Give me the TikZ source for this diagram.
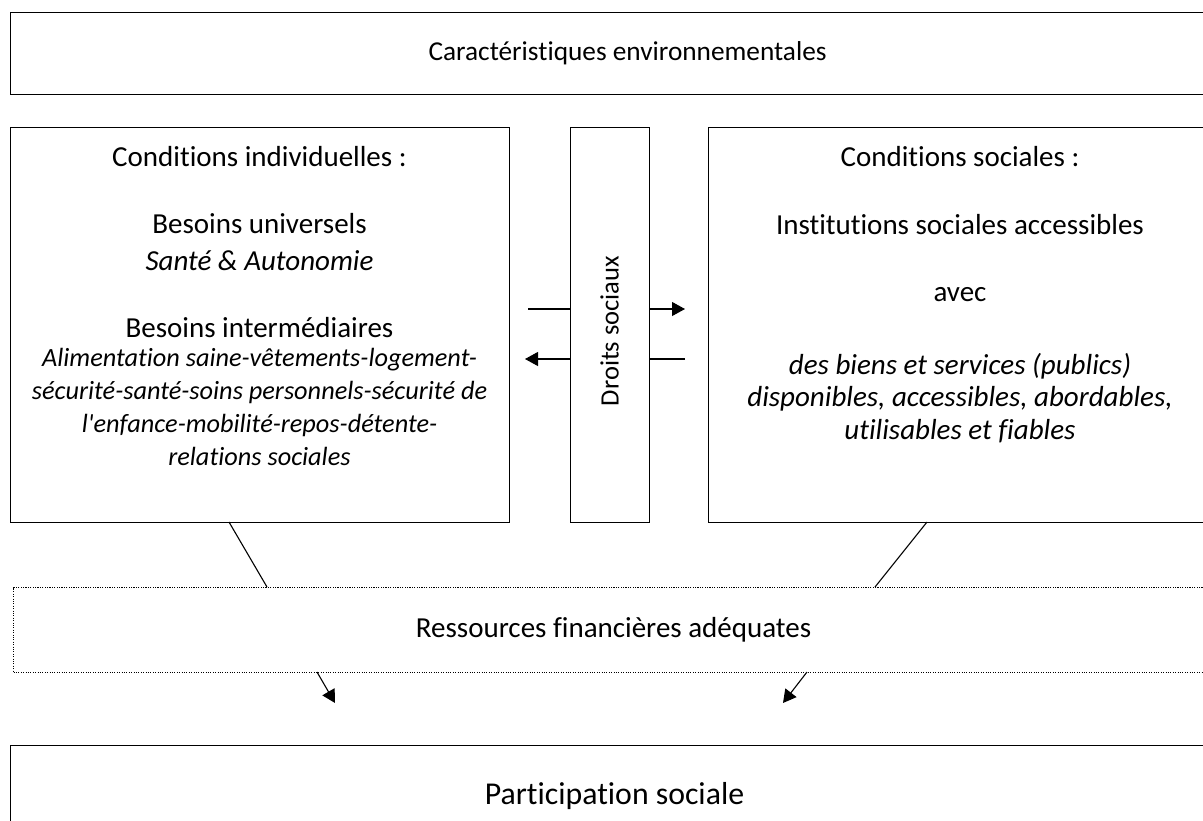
\documentclass[tikz,border=0pt]{standalone}
\usepackage{fontspec}
\setmainfont{Carlito}[Ligatures={NoCommon,TeXOff},RawFeature={-calt}]
\usetikzlibrary{arrows.meta}
\begin{document}
\begin{tikzpicture}[x=1pt,y=-1pt,
  box/.style={draw,line width=1.1pt,anchor=north west,inner sep=0pt},
  dotbox/.style={draw,line width=1.1pt,dash pattern=on 1.1pt off 1.3pt,anchor=north west,inner sep=0pt},
  lbl/.style={inner sep=0pt,align=center,font=\fontsize{29}{32.7}\selectfont},
  ilbl/.style={lbl,font=\fontsize{29}{32.7}\selectfont\itshape},
  slbl/.style={lbl,font=\fontsize{26.3}{32.7}\selectfont\itshape},
  link/.style={line width=1.1pt},
  arr/.style={line width=1.1pt,-{Triangle[length=13pt,width=14pt]}}]
\clip (0,0) rectangle (1203,820);
\fill[white] (0,0) rectangle (1203,820);

% outer frames
\node[box,minimum width=1234pt,minimum height=82pt] (env) at (10,12)
  {\fontsize{27.3}{32.7}\selectfont Caractéristiques environnementales};
\node[box,minimum width=499pt,minimum height=395pt] (indiv) at (10,127) {};
\node[box,minimum width=79pt,minimum height=395pt] (droits) at (570,127) {};
\node[box,minimum width=504pt,minimum height=395pt] (soc) at (708,127) {};
\node[dotbox,minimum width=1200pt,minimum height=85pt] (res) at (13,587)
  {\fontsize{29}{32.7}\selectfont Ressources financières adéquates};
\node[box,minimum width=1208pt,minimum height=100pt] (part) at (10,745)
  {\fontsize{31.8}{36}\selectfont Participation sociale};

% individual conditions
\node[lbl] (ci) at (259.5,157) {Conditions individuelles :};
\node[lbl] (bu) at (259.5,224) {Besoins universels};
\node[ilbl] (sa) at (259.5,261) {Santé \& Autonomie};
\node[lbl] (bi) at (259.5,328) {Besoins intermédiaires};
\node[slbl] (bil) at (259.5,407) {Alimentation saine-vêtements-logement-\\
  sécurité-santé-soins personnels-sécurité de\\
  l'enfance-mobilité-repos-détente-\\
  relations sociales};

% social conditions
\node[lbl] (cs) at (960,157) {Conditions sociales :};
\node[lbl] (isa) at (960,225) {Institutions sociales accessibles};
\node[lbl] (av) at (960,295) {avec};
\node[ilbl] (bs) at (960,398) {des biens et services (publics)\\
  disponibles, accessibles, abordables,\\
  utilisables et fiables};

% social rights
\node[lbl,rotate=90,font=\fontsize{26.5}{30}\selectfont] (dt) at (609.5,331) {Droits sociaux};

% exchange arrows through the rights box
\coordinate (r1) at (528,309);
\coordinate (r1e) at (685,309);
\coordinate (r2) at (685,359);
\coordinate (r2e) at (525,359);
\draw[link] (r1) -- (r1 -| droits.west);
\draw[arr] (r1 -| droits.east) -- (r1e);
\draw[link] (r2) -- (r2 -| droits.east);
\draw[arr] (r2 -| droits.west) -- (r2e);

% links to the resources box
\coordinate (la) at (229,522);
\coordinate (lb) at (267,587);
\coordinate (ra) at (927,522);
\coordinate (rb) at (875,587);
\draw[link] (la) -- (lb);
\draw[link] (ra) -- (rb);

% arrows towards participation
\coordinate (pa) at (317,672);
\coordinate (pat) at (335,703);
\coordinate (pb) at (807,672);
\coordinate (pbt) at (783,703);
\draw[arr] (pa) -- (pat);
\draw[arr] (pb) -- (pbt);
\end{tikzpicture}
\end{document}
